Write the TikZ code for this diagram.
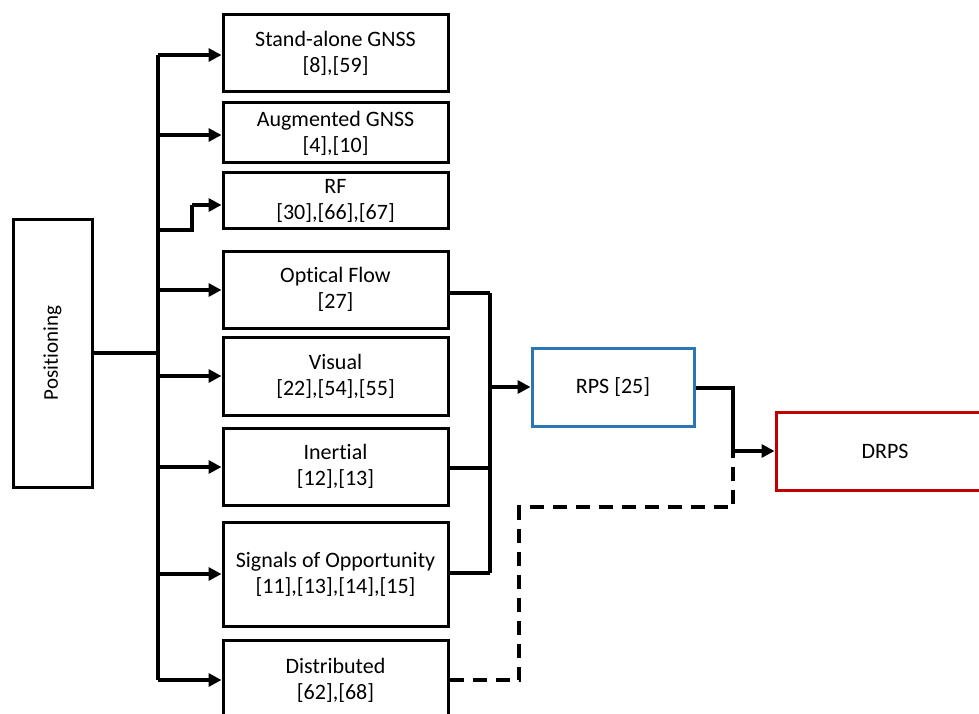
\documentclass[tikz,border=0pt]{standalone}
\usepackage{fontspec}
\setmainfont{Carlito}[Ligatures=NoCommon]
\usetikzlibrary{arrows.meta}
\definecolor{rpsblue}{RGB}{46,117,182}
\definecolor{drpsred}{RGB}{192,0,0}
\begin{document}
\begin{tikzpicture}[x=1pt,y=-1pt,
  txt/.style={font=\fontsize{22}{26}\selectfont, align=center, inner sep=0pt},
  box/.style={txt, draw, line width=3pt, minimum width=225pt},
  link/.style={line width=4pt},
  arr/.style={link, -{Triangle[length=13pt,width=13pt]}},
  dashlink/.style={line width=4pt, dash pattern=on 14pt off 9pt}
]
\useasboundingbox (0,0) rectangle (979,714);
\clip (0,0) rectangle (979,714);

% root
\node[txt, draw, line width=3pt, minimum width=79pt, minimum height=268pt] (pos) at (52.5,353) {};
\node[txt, font=\fontsize{21}{25}\selectfont, rotate=90] (postext) at (pos.center) {Positioning};

% positioning techniques
\node[box, minimum height=77pt]  (sa) at (335.5,53.5) {Stand-alone GNSS\\{}[8],[59]};
\node[box, minimum height=60pt]  (ag) at (335.5,133)  {Augmented GNSS\\{}[4],[10]};
\node[box, minimum height=55pt]  (rf) at (335.5,200.5) {RF\\{}[30],[66],[67]};
\node[box, minimum height=77pt]  (of) at (335.5,289.5) {Optical Flow\\{}[27]};
\node[box, minimum height=78pt]  (vi) at (335.5,376)  {Visual\\{}[22],[54],[55]};
\node[box, minimum height=77pt]  (in) at (335.5,466.5) {Inertial\\{}[12],[13]};
\node[box, minimum height=104pt] (so) at (335.5,574)  {Signals of Opportunity\\{}[11],[13],[14],[15]};
\node[box, minimum height=100pt] (di) at (335.5,690)  {};
\node[txt] (ditext) at (335.5,680) {Distributed\\{}[62],[68]};

% fused systems
\node[txt, draw=rpsblue, line width=3pt, minimum width=162pt, minimum height=78pt] (rps) at (613,387) {RPS [25]};
\node[txt, draw=drpsred, line width=3pt, minimum width=218pt, minimum height=78pt] (drps) at (885,451) {DRPS};

% distribution bus
\coordinate (bustop) at (158,55);
\coordinate (busbot) at (158,680);
\coordinate (busmid) at (158,353);
\coordinate (rfa) at (158,230);
\coordinate (rfb) at (192,230);
\coordinate (rfc) at (192,205);

\draw[link] (pos.east |- busmid) -- (busmid);
\draw[link] (bustop) -- (busbot);
\draw[arr] (bustop) -- (sa.west |- bustop);
\draw[arr] (158,135) -- (ag.west |- 0,135);
\draw[link] (rfa) -- (rfb) -- (rfc);
\draw[arr] (rfc) -- (rf.west |- rfc);
\draw[arr] (158,290) -- (of.west |- 0,290);
\draw[arr] (158,376) -- (vi.west |- 0,376);
\draw[arr] (158,467) -- (in.west |- 0,467);
\draw[arr] (158,574) -- (so.west |- 0,574);
\draw[arr] (busbot) -- (di.west |- busbot);

% merge into RPS
\coordinate (mtop) at (490,293);
\coordinate (mbot) at (490,573);
\coordinate (mmid) at (490,387);
\draw[link] (of.east |- mtop) -- (mtop);
\draw[link] (in.east |- 0,468) -- (490,468);
\draw[link] (so.east |- mbot) -- (mbot);
\draw[link] (mtop) -- (mbot);
\draw[arr] (mmid) -- (rps.west |- mmid);

% RPS and distributed into DRPS
\coordinate (ja) at (733,388);
\coordinate (jb) at (733,451);
\coordinate (da) at (519,680);
\coordinate (db) at (519,507);
\coordinate (dc) at (733,507);
\draw[dashlink] (di.east |- da) -- (da) -- (db) -- (dc) -- (jb);
\draw[link] (rps.east |- ja) -- (ja) -- (jb);
\draw[arr] (jb) -- (drps.west |- jb);
\end{tikzpicture}
\end{document}
